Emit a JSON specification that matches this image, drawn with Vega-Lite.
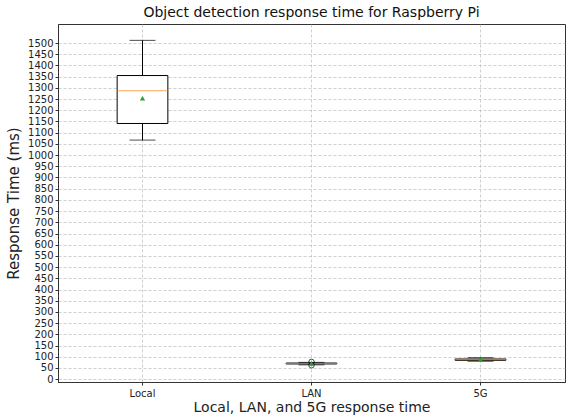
{
  "$schema": "https://vega.github.io/schema/vega-lite/v6.json",
  "width": 507,
  "height": 358,
  "autosize": {"type": "none"},
  "padding": {"left": 58, "top": 24, "right": 1, "bottom": 35},
  "config": {
    "font": "DejaVu Sans",
    "view": {"stroke": "#333333", "strokeWidth": 1},
    "axis": {
      "grid": true,
      "gridColor": "#b0b0b0",
      "gridDash": [3, 2],
      "gridWidth": 0.6,
      "domainColor": "#333333",
      "tickColor": "#333333",
      "labelColor": "#222222",
      "titleColor": "#222222",
      "labelFont": "DejaVu Sans",
      "titleFont": "DejaVu Sans",
      "titleFontWeight": "normal",
      "labelFontSize": 10,
      "titleFontSize": 14,
      "tickSize": 3
    },
    "axisY": {"titleFontSize": 15},
    "title": {"font": "DejaVu Sans", "fontSize": 14, "fontWeight": "normal", "color": "#111111", "offset": 4}
  },
  "title": "Object detection response time for Raspberry Pi",
  "datasets": {
    "stats": [
      {"network": "Local", "lo": 1067, "q1": 1141, "median": 1287, "q3": 1355, "hi": 1512, "mean": 1254},
      {"network": "LAN", "lo": 64, "q1": 68, "median": 70, "q3": 72, "hi": 75, "mean": 70},
      {"network": "5G", "lo": 80, "q1": 84, "median": 87, "q3": 90, "hi": 96, "mean": 88}
    ],
    "fliers": [
      {"network": "LAN", "value": 62},
      {"network": "LAN", "value": 77}
    ]
  },
  "encoding": {
    "x": {
      "field": "network",
      "type": "nominal",
      "sort": ["Local", "LAN", "5G"],
      "scale": {"domain": ["Local", "LAN", "5G"], "paddingInner": 0, "paddingOuter": 0},
      "axis": {"title": "Local, LAN, and 5G response time", "labelAngle": 0, "bandPosition": 0.5, "titlePadding": 2, "labelPadding": 3}
    }
  },
  "layer": [
    {
      "data": {"name": "stats"},
      "mark": {"type": "rule", "color": "#000000", "strokeWidth": 1},
      "encoding": {
        "y": {
          "field": "lo",
          "type": "quantitative",
          "scale": {"domain": [-12.6, 1585], "nice": false, "zero": false},
          "axis": {"title": "Response Time (ms)", "values": [0, 50, 100, 150, 200, 250, 300, 350, 400, 450, 500, 550, 600, 650, 700, 750, 800, 850, 900, 950, 1000, 1050, 1100, 1150, 1200, 1250, 1300, 1350, 1400, 1450, 1500], "format": "d", "titlePadding": 6, "labelPadding": 2}
        },
        "y2": {"field": "hi"}
      }
    },
    {
      "data": {"name": "stats"},
      "mark": {"type": "bar", "fill": "white", "stroke": "#000000", "strokeWidth": 1, "width": {"band": 0.3}},
      "encoding": {
        "y": {"field": "q1", "type": "quantitative", "axis": {"title": "Response Time (ms)", "values": [0, 50, 100, 150, 200, 250, 300, 350, 400, 450, 500, 550, 600, 650, 700, 750, 800, 850, 900, 950, 1000, 1050, 1100, 1150, 1200, 1250, 1300, 1350, 1400, 1450, 1500], "format": "d", "titlePadding": 6, "labelPadding": 2}},
        "y2": {"field": "q3"}
      }
    },
    {
      "data": {"name": "stats"},
      "mark": {"type": "tick", "color": "#000000", "size": 26, "thickness": 1},
      "encoding": {"y": {"field": "lo", "type": "quantitative", "axis": {"title": "Response Time (ms)", "values": [0, 50, 100, 150, 200, 250, 300, 350, 400, 450, 500, 550, 600, 650, 700, 750, 800, 850, 900, 950, 1000, 1050, 1100, 1150, 1200, 1250, 1300, 1350, 1400, 1450, 1500], "format": "d", "titlePadding": 6, "labelPadding": 2}}}
    },
    {
      "data": {"name": "stats"},
      "mark": {"type": "tick", "color": "#000000", "size": 26, "thickness": 1},
      "encoding": {"y": {"field": "hi", "type": "quantitative", "axis": {"title": "Response Time (ms)", "values": [0, 50, 100, 150, 200, 250, 300, 350, 400, 450, 500, 550, 600, 650, 700, 750, 800, 850, 900, 950, 1000, 1050, 1100, 1150, 1200, 1250, 1300, 1350, 1400, 1450, 1500], "format": "d", "titlePadding": 6, "labelPadding": 2}}}
    },
    {
      "data": {"name": "stats"},
      "mark": {"type": "tick", "color": "#ff7f0e", "size": 51, "thickness": 1},
      "encoding": {"y": {"field": "median", "type": "quantitative", "axis": {"title": "Response Time (ms)", "values": [0, 50, 100, 150, 200, 250, 300, 350, 400, 450, 500, 550, 600, 650, 700, 750, 800, 850, 900, 950, 1000, 1050, 1100, 1150, 1200, 1250, 1300, 1350, 1400, 1450, 1500], "format": "d", "titlePadding": 6, "labelPadding": 2}}}
    },
    {
      "data": {"name": "fliers"},
      "mark": {"type": "point", "shape": "circle", "filled": false, "stroke": "#000000", "strokeWidth": 1, "size": 30},
      "encoding": {"y": {"field": "value", "type": "quantitative", "axis": {"title": "Response Time (ms)", "values": [0, 50, 100, 150, 200, 250, 300, 350, 400, 450, 500, 550, 600, 650, 700, 750, 800, 850, 900, 950, 1000, 1050, 1100, 1150, 1200, 1250, 1300, 1350, 1400, 1450, 1500], "format": "d", "titlePadding": 6, "labelPadding": 2}}}
    },
    {
      "data": {"name": "stats"},
      "mark": {"type": "point", "shape": "triangle-up", "filled": true, "color": "#2ca02c", "opacity": 1, "size": 28},
      "encoding": {"y": {"field": "mean", "type": "quantitative", "axis": {"title": "Response Time (ms)", "values": [0, 50, 100, 150, 200, 250, 300, 350, 400, 450, 500, 550, 600, 650, 700, 750, 800, 850, 900, 950, 1000, 1050, 1100, 1150, 1200, 1250, 1300, 1350, 1400, 1450, 1500], "format": "d", "titlePadding": 6, "labelPadding": 2}}}
    }
  ]
}
